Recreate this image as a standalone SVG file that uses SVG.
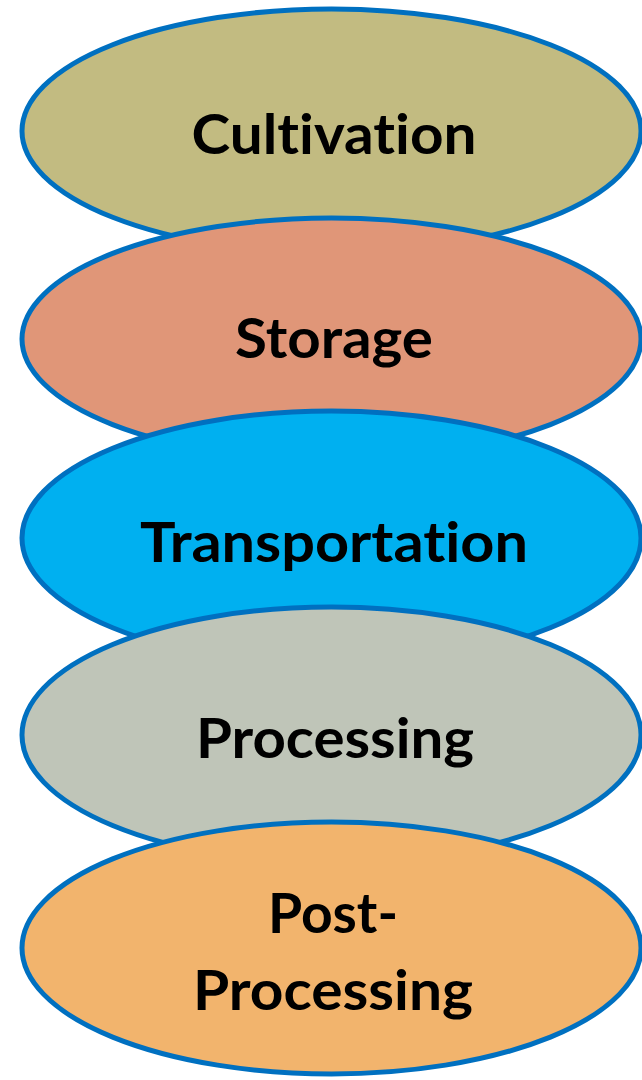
<svg xmlns="http://www.w3.org/2000/svg" width="642" height="1080" viewBox="0 0 642 1080">
  <style>
    .stage { stroke: #0070C0; stroke-width: 5; }
    .label { font-family: Lato, "Open Sans", "Liberation Sans", sans-serif; font-weight: bold; font-size: 56px; fill: #000000; text-anchor: middle; font-variant-ligatures: none; font-feature-settings: "liga" 0, "clig" 0; }
  </style>
  <rect width="642" height="1080" fill="#FFFFFF"/>

  <!-- stacked stages, each later one drawn over the one above -->
  <g id="cultivation">
    <ellipse class="stage" cx="331.5" cy="131" rx="309.5" ry="122" fill="#C2BB81"/>
    <text class="label" x="334" y="154" textLength="285" lengthAdjust="spacingAndGlyphs">Cultivation</text>
  </g>

  <g id="storage">
    <ellipse class="stage" cx="331.5" cy="339" rx="309.5" ry="121" fill="#E09678"/>
    <text class="label" x="334" y="358" textLength="198" lengthAdjust="spacingAndGlyphs">Storage</text>
  </g>

  <g id="transportation">
    <ellipse class="stage" cx="331.5" cy="538" rx="309.5" ry="127" fill="#00B0F0"/>
    <text class="label" x="334" y="562" textLength="388" lengthAdjust="spacingAndGlyphs">Transportation</text>
  </g>

  <g id="processing">
    <ellipse class="stage" cx="331.5" cy="735" rx="309.5" ry="128" fill="#BFC5B8"/>
    <text class="label" x="335" y="758" textLength="278" lengthAdjust="spacingAndGlyphs">Processing</text>
  </g>

  <g id="post-processing">
    <ellipse class="stage" cx="331.5" cy="948" rx="309.5" ry="126" fill="#F2B46D"/>
    <text class="label" x="333" y="933" textLength="130" lengthAdjust="spacingAndGlyphs">Post-</text>
    <text class="label" x="333" y="1010" textLength="280" lengthAdjust="spacingAndGlyphs">Processing</text>
  </g>
</svg>
